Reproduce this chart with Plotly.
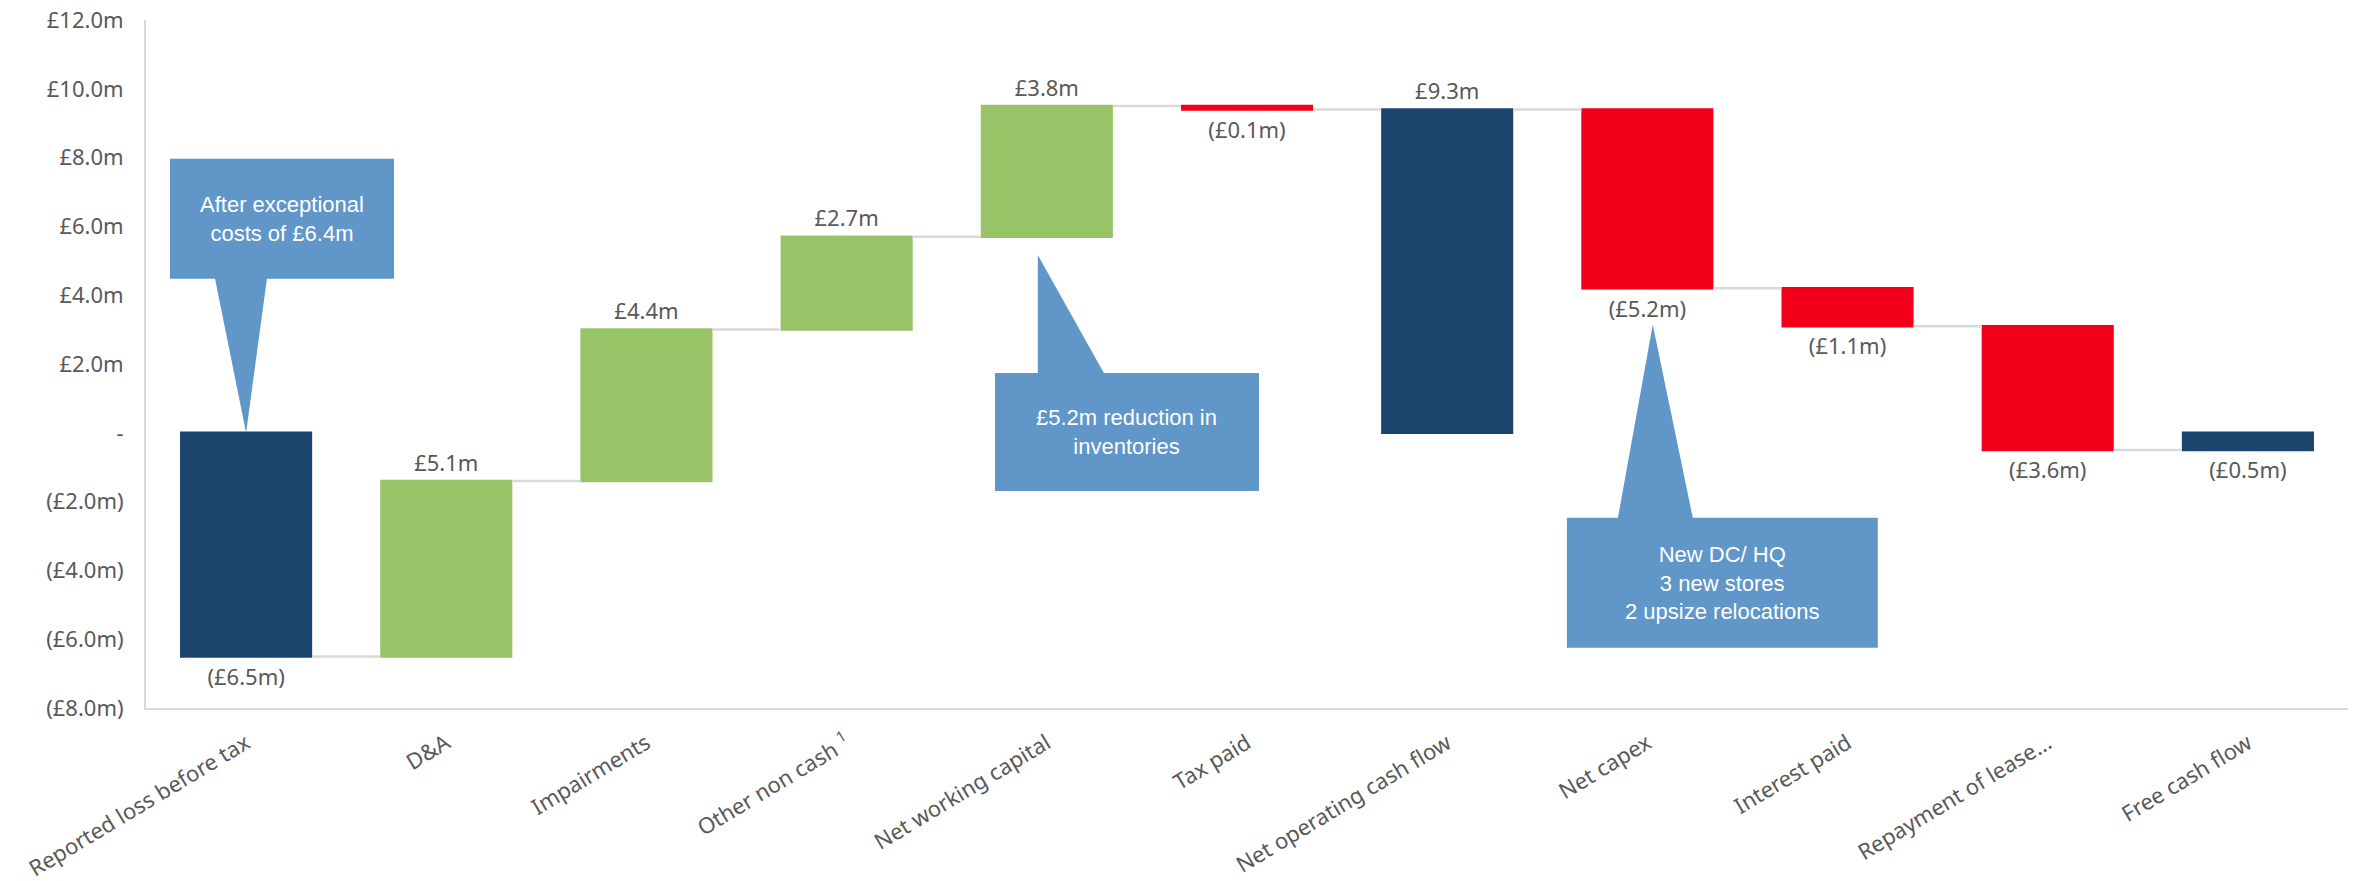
import plotly.graph_objects as go

# ---------------- data ----------------
categories = [
    "Reported loss before tax", "D&A", "Impairments", "Other non cash <sup>1</sup>",
    "Net working capital", "Tax paid", "Net operating cash flow", "Net capex",
    "Interest paid", "Repayment of lease...", "Free cash flow",
]
measures = ["absolute", "relative", "relative", "relative", "relative", "relative",
            "total", "relative", "relative", "relative", "total"]
values = [-6.5, 5.1, 4.4, 2.7, 3.8, -0.1, 0, -5.2, -1.1, -3.6, 0]
value_labels = ["(£6.5m)", "£5.1m", "£4.4m", "£2.7m", "£3.8m", "(£0.1m)",
                "£9.3m", "(£5.2m)", "(£1.1m)", "(£3.6m)", "(£0.5m)"]
y_tickvals = [12, 10, 8, 6, 4, 2, 0, -2, -4, -6, -8]
y_ticktext = ["£12.0m", "£10.0m", "£8.0m", "£6.0m", "£4.0m", "£2.0m", "-",
              "(£2.0m)", "(£4.0m)", "(£6.0m)", "(£8.0m)"]

# ---------------- styles ----------------
DARK = "#1B446D"
GREEN = "#97C467"
RED = "#F20019"
CALLOUT = "#6096C8"
GREY_TXT = "#595959"
AXIS = "#D9D9D9"
FONT = "Segoe UI, Noto Sans, Open Sans, sans-serif"

xpos = list(range(len(categories)))

fig = go.Figure(go.Waterfall(
    x=xpos,
    y=values,
    measure=measures,
    text=value_labels,
    textinfo="text",
    textposition="outside",
    textfont=dict(family=FONT, size=22, color=GREY_TXT),
    cliponaxis=False,
    width=0.66,
    increasing=dict(marker=dict(color=GREEN, line=dict(width=0))),
    decreasing=dict(marker=dict(color=RED, line=dict(width=0))),
    totals=dict(marker=dict(color=DARK, line=dict(width=0))),
    connector=dict(line=dict(color=AXIS, width=2.5), mode="between"),
    hoverinfo="skip",
))

# ---------------- callouts (annotation geometry) ----------------
callouts = [
    dict(box=(-0.38, 0.739, 4.48, 7.97), base=(-0.155, 0.104), tip=(0.0, 0.0), side="bottom",
         text="After exceptional<br>costs of £6.4m"),
    dict(box=(3.741, 5.06, -1.69, 1.74), base=(3.955, 4.285), tip=(3.955, 5.17), side="top",
         text="£5.2m reduction in<br>inventories"),
    dict(box=(6.598, 8.151, -6.25, -2.47), base=(6.853, 7.227), tip=(7.027, 3.14), side="top",
         text="New DC/ HQ<br>3 new stores<br>2 upsize relocations"),
]

shapes = []
annotations = []
for c in callouts:
    x0, x1, yb, yt = c["box"]
    bx0, bx1 = c["base"]
    tx, ty = c["tip"]
    if c["side"] == "bottom":
        path = (f"M {x0},{yt} L {x1},{yt} L {x1},{yb} L {bx1},{yb} L {tx},{ty} "
                f"L {bx0},{yb} L {x0},{yb} Z")
    else:
        path = (f"M {x0},{yb} L {x1},{yb} L {x1},{yt} L {bx1},{yt} L {tx},{ty} "
                f"L {bx0},{yt} L {x0},{yt} Z")
    shapes.append(dict(type="path", path=path, xref="x", yref="y",
                       fillcolor=CALLOUT, line=dict(width=0), layer="above"))
    annotations.append(dict(x=(x0 + x1) / 2, y=(yb + yt) / 2, xref="x", yref="y",
                            text=c["text"], showarrow=False,
                            font=dict(family="Arial, Liberation Sans, sans-serif",
                                      size=22, color="white"),
                            align="center"))

fig.update_layout(
    width=2356, height=881,
    margin=dict(l=146, r=8, t=20, b=173, autoexpand=False),
    paper_bgcolor="white", plot_bgcolor="white",
    showlegend=False,
    shapes=shapes,
    annotations=annotations,
    font=dict(family=FONT, color=GREY_TXT),
)
fig.update_xaxes(
    range=[-0.5, len(categories) - 0.5],
    tickmode="array", tickvals=xpos, ticktext=categories,
    tickangle=-31,
    tickfont=dict(family=FONT, size=22, color=GREY_TXT),
    showline=True, linecolor=AXIS, linewidth=2,
    showgrid=False, zeroline=False, ticks="", ticklabelstandoff=12,
    automargin=False,
)
fig.update_yaxes(
    range=[-8, 12],
    tickmode="array", tickvals=y_tickvals, ticktext=y_ticktext,
    tickfont=dict(family=FONT, size=22, color=GREY_TXT),
    showline=True, linecolor=AXIS, linewidth=2,
    showgrid=False, zeroline=False, ticks="", ticklabelstandoff=16,
    automargin=False,
)

fig.write_html("out.html",
               config={"displayModeBar": False},
               post_script="document.body.style.margin='0';document.body.style.overflow='hidden';")
